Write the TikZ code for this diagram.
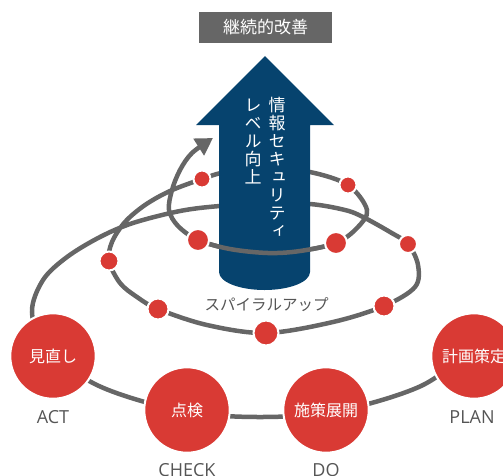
\documentclass[tikz,border=0pt]{standalone}
\usepackage{fontspec}
\setmainfont{Open Sans}
\newfontfamily\jp{Noto Sans CJK JP}
\newfontfamily\vjp[RawFeature=+vert]{Noto Sans CJK JP}
\usetikzlibrary{arrows.meta}
\definecolor{sred}{RGB}{217,58,52}
\definecolor{sblue}{RGB}{6,67,110}
\definecolor{sgray}{RGB}{102,102,102}
\definecolor{tgray}{RGB}{85,85,85}
\begin{document}
\begin{tikzpicture}[x=1pt,y=-1pt,
  spiral/.style={draw=sgray, line width=4.5pt},
  spiralplot/.style={insert path={plot[smooth, tension=0.55] coordinates {
    (474,348) (421,386) (338,411) (260,417) (182,411) (99,386) (46,348) (32,312)
    (43,280) (67,257) (100,237) (133,223) (180,211) (220,206) (265,204) (310,204)
    (345,210) (363,217) (390,232) (408,244) (418,265) (415,287) (384,306) (333,322)
    (266,333) (207,325) (158,309) (137,297) (120,283) (109,261) (112,242) (125,222)
    (145,205) (170,191) (202,179) (226,172) (268,168) (310,172) (348,185) (367,210)
    (357,228) (336,243) (300,251) (268,253) (230,249) (198,240) (178,226) (169,210)
    (172,190) (180,170) (192,153) (213,138)}}},
  dotc/.style={circle, fill=sred, draw=white, line width=2pt, inner sep=0pt},
  bigc/.style={circle, fill=sred, draw=white, line width=2pt, minimum size=85.4pt, inner sep=0pt, text=white, font=\jp\fontsize{16}{16}\selectfont},
  plabel/.style={text=tgray, font=\fontsize{18}{18}\selectfont, inner sep=0pt},
  vtext/.style={anchor=north, inner sep=0pt, align=center, text=white, font=\vjp\fontsize{17}{18}\selectfont},
]
\useasboundingbox (0,0) rectangle (503,475);
% spiral (back)
\draw[spiral, spiralplot, -{Triangle[length=17pt,width=19pt]}];
% big arrow
\fill[sblue] (219,272) -- (219,125) -- (196,125) -- (265,56) -- (334,125) -- (310,125) -- (310,272)
  .. controls (310,282) and (289.6,290) .. (264.5,290)
  .. controls (239.4,290) and (219,282) .. (219,272) -- cycle;
% inner bottom of spiral passes in front
\begin{scope}
  \clip (200,232) rectangle (330,268);
  \draw[spiral, spiralplot];
\end{scope}
% small dots
\node[dotc, minimum size=17pt] (d1) at (202,179) {};
\node[dotc, minimum size=17pt] (d2) at (348,185) {};
\node[dotc, minimum size=22pt] (d3) at (336,243) {};
\node[dotc, minimum size=22pt] (d4) at (198,240) {};
\node[dotc, minimum size=18pt] (d5) at (408,244) {};
\node[dotc, minimum size=21pt] (d6) at (384,306) {};
\node[dotc, minimum size=25pt] (d7) at (266,333) {};
\node[dotc, minimum size=21pt] (d8) at (158,309) {};
\node[dotc, minimum size=19pt] (d9) at (109,261) {};
% big circles
\node[bigc] (act) at (53,356) {見直し};
\node[bigc] (check) at (187,410) {点検};
\node[bigc] (do) at (326,410) {施策展開};
\node[bigc] (plan) at (474,356) {計画策定};
\node[plabel] (actl) at (53,417) {ACT};
\node[plabel] (checkl) at (187,470) {CHECK};
\node[plabel] (dol) at (326,470) {DO};
\node[plabel] (planl) at (472,417) {PLAN};
% vertical text
\node[vtext] (v1) at (277,97) {情\\報\\セ\\キ\\ュ\\リ\\テ\\ィ};
\node[vtext] (v2) at (253,99) {レ\\ベ\\ル\\向\\上};
% spiral up label
\node[text=tgray, inner sep=0pt, font=\jp\fontsize{15.5}{15.5}\selectfont] (su) at (266.5,305) {スパイラルアップ};
% title
\node[fill=sgray, minimum width=133pt, minimum height=31pt, inner sep=0pt, text=white, font=\jp\fontsize{17}{17}\selectfont] (title) at (265.5,27.5) {継続的改善};
\end{tikzpicture}
\end{document}
